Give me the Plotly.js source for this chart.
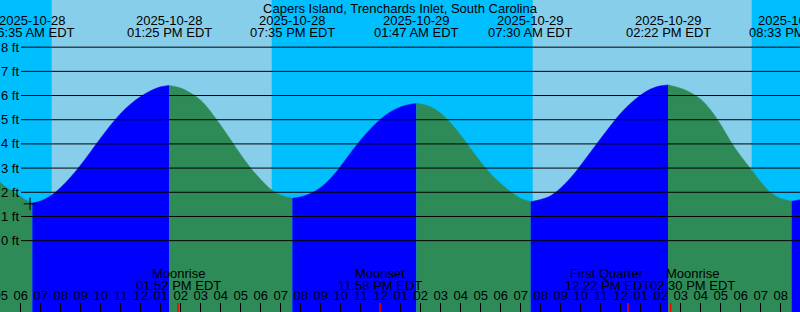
<!DOCTYPE html>
<html><head><meta charset="utf-8">
<script src="https://cdn.plot.ly/plotly-3.0.1.min.js"></script>
<style>html,body{margin:0;padding:0;background:#00BFFF;overflow:hidden}#chart{width:800px;height:312px}</style>
</head><body><div id="chart"></div>
<script>
const chartTitle = 'Capers Island, Trenchards Inlet, South Carolina';

// Tide curve samples (feet)
const tideTimes = [
 '2025-10-28 04:45','2025-10-28 05:00','2025-10-28 05:30','2025-10-28 06:00','2025-10-28 06:15','2025-10-28 06:35',
 '2025-10-28 07:00','2025-10-28 07:30','2025-10-28 08:00','2025-10-28 08:30','2025-10-28 09:00',
 '2025-10-28 09:30','2025-10-28 10:00','2025-10-28 10:30','2025-10-28 11:00','2025-10-28 11:30',
 '2025-10-28 12:00','2025-10-28 12:30','2025-10-28 13:00','2025-10-28 13:25','2025-10-28 14:00',
 '2025-10-28 14:30','2025-10-28 15:00','2025-10-28 15:30','2025-10-28 16:00','2025-10-28 16:30',
 '2025-10-28 17:00','2025-10-28 17:30','2025-10-28 18:00','2025-10-28 18:30','2025-10-28 19:00',
 '2025-10-28 19:35','2025-10-28 20:00','2025-10-28 20:30','2025-10-28 21:00','2025-10-28 21:30',
 '2025-10-28 22:00','2025-10-28 22:30','2025-10-28 23:00','2025-10-28 23:30','2025-10-29 00:00',
 '2025-10-29 00:30','2025-10-29 01:00','2025-10-29 01:30','2025-10-29 01:47','2025-10-29 02:00',
 '2025-10-29 02:30','2025-10-29 03:00','2025-10-29 03:30','2025-10-29 04:00','2025-10-29 04:30',
 '2025-10-29 05:00','2025-10-29 05:30','2025-10-29 06:00','2025-10-29 06:30','2025-10-29 07:00',
 '2025-10-29 07:30','2025-10-29 08:00','2025-10-29 08:30','2025-10-29 09:00','2025-10-29 09:30',
 '2025-10-29 10:00','2025-10-29 10:30','2025-10-29 11:00','2025-10-29 11:30','2025-10-29 12:00',
 '2025-10-29 12:30','2025-10-29 13:00','2025-10-29 13:30','2025-10-29 14:00','2025-10-29 14:22',
 '2025-10-29 15:00','2025-10-29 15:30','2025-10-29 16:00','2025-10-29 16:30','2025-10-29 17:00',
 '2025-10-29 17:30','2025-10-29 18:00','2025-10-29 18:30','2025-10-29 19:00','2025-10-29 19:30',
 '2025-10-29 20:00','2025-10-29 20:33','2025-10-29 21:00','2025-10-29 21:15'
];
const tideHeights = [
 2.62,2.38,2.08,1.83,1.68,1.56,
 1.64,1.86,2.20,2.63,3.13,
 3.68,4.24,4.78,5.26,5.65,
 5.96,6.20,6.36,6.42,6.31,
 6.10,5.80,5.33,4.77,4.17,
 3.56,3.00,2.53,2.13,1.88,
 1.75,1.81,1.95,2.20,2.58,
 3.08,3.63,4.16,4.63,5.03,
 5.33,5.53,5.64,5.67,5.65,
 5.53,5.27,4.86,4.36,3.80,
 3.25,2.76,2.36,2.02,1.74,
 1.61,1.70,1.86,2.18,2.60,
 3.12,3.67,4.22,4.76,5.27,
 5.68,6.02,6.27,6.40,6.44,
 6.30,6.12,5.85,5.40,4.80,
 4.10,3.50,2.97,2.43,1.98,
 1.74,1.63,1.70,1.78
];

// High / low tide events (labels at top)
const extremeTimes = ['2025-10-28 06:35','2025-10-28 13:25','2025-10-28 19:35','2025-10-29 01:47','2025-10-29 07:30','2025-10-29 14:22','2025-10-29 20:33'];
const extremeDates = ['2025-10-28','2025-10-28','2025-10-28','2025-10-29','2025-10-29','2025-10-29','2025-10-29'];
const extremeLabels = ['06:35 AM EDT','01:25 PM EDT','07:35 PM EDT','01:47 AM EDT','07:30 AM EDT','02:22 PM EDT','08:33 PM EDT'];

// Daylight periods
const sunrises = ['2025-10-28 07:33','2025-10-29 07:36'];
const sunsets  = ['2025-10-28 18:33','2025-10-29 18:33'];

// Moon events (bottom)
const moonTimes  = ['2025-10-28 13:52','2025-10-28 23:58','2025-10-29 12:22','2025-10-29 14:30'];
const moonNames  = ['Moonrise','Moonset','First Quarter','Moonrise'];
const moonLabels = ['01:52 PM EDT','11:58 PM EDT','12:22 PM EDT','02:30 PM EDT'];
const moonShift  = [0,0,-21,22];

// current-time marker
const nowTime = ['2025-10-28 06:28'];
const nowHeight = [1.52];

const ftTicks = [0,1,2,3,4,5,6,7,8];

const NIGHT = '#00BFFF', DAY = '#87CEEB', RISE = '#0000FF', FALL = '#2E8B57';
const Y0 = -2.95, Y1 = 9.95, BASE = -6;
const H = 312;
const FONT = 'Liberation Sans, Arial, sans-serif';
const FS = 13;
function py(px){ return 1 - px/H; }

const traces = [];
const bounds = [tideTimes[0], ...extremeTimes, tideTimes[tideTimes.length-1]];
for (let s = 0; s < bounds.length-1; s++) {
  const a = bounds[s], b = bounds[s+1];
  const xs = [], ys = [];
  tideTimes.forEach((t,i)=>{ if (t >= a && t <= b) { xs.push(t); ys.push(tideHeights[i]); } });
  const color = ys[ys.length-1] > ys[0] ? RISE : FALL;
  traces.push({x:[a,b], y:[BASE,BASE], mode:'lines', line:{width:0}, hoverinfo:'skip', showlegend:false});
  traces.push({x:xs, y:ys, mode:'lines', line:{shape:'spline', width:0.5, color:color}, fill:'tonexty', fillcolor:color, hoverinfo:'skip', showlegend:false});
}
traces.push({x:nowTime, y:nowHeight, mode:'markers', marker:{symbol:'cross-thin', size:9, line:{width:1, color:'#000'}, color:'#000'}, showlegend:false});

const shapes = [];
sunrises.forEach((t,i)=>{
  shapes.push({type:'rect', layer:'below', xref:'x', yref:'paper', x0:t, x1:sunsets[i], y0:0, y1:1, fillcolor:DAY, line:{width:0}});
});
ftTicks.forEach(v=>{
  shapes.push({type:'line', layer:'above', xref:'paper', yref:'y', x0:21/800, x1:1, y0:v, y1:v, line:{color:'#000', width:1}});
});
moonTimes.forEach(t=>{
  shapes.push({type:'line', layer:'above', xref:'x', yref:'paper', x0:t, x1:t, y0:0, y1:9/H, line:{color:'#FF0000', width:1.5}});
});

const annotations = [];
ftTicks.forEach(v=>{
  annotations.push({xref:'paper', yref:'y', x:20.5/800, y:v, xanchor:'right', yanchor:'middle', text:v+' ft', showarrow:false, font:{family:FONT,size:FS,color:'#000'}});
});
extremeTimes.forEach((t,i)=>{
  annotations.push({xref:'x', yref:'paper', x:t, y:py(20.3), xanchor:'center', yanchor:'middle', text:extremeDates[i], showarrow:false, font:{family:FONT,size:FS,color:'#000'}});
  annotations.push({xref:'x', yref:'paper', x:t, y:py(32.3), xanchor:'center', yanchor:'middle', text:extremeLabels[i], showarrow:false, font:{family:FONT,size:FS,color:'#000'}});
});
moonTimes.forEach((t,i)=>{
  annotations.push({xref:'x', yref:'paper', x:t, y:py(273.5), xanchor:'center', yanchor:'middle', xshift:moonShift[i], text:moonNames[i], showarrow:false, font:{family:FONT,size:FS,color:'#000'}});
  annotations.push({xref:'x', yref:'paper', x:t, y:py(285), xanchor:'center', yanchor:'middle', xshift:moonShift[i], text:moonLabels[i], showarrow:false, font:{family:FONT,size:FS,color:'#000'}});
});

const layout = {
  width:800, height:312,
  margin:{l:0,r:0,t:0,b:0,pad:0},
  paper_bgcolor:NIGHT, plot_bgcolor:NIGHT,
  showlegend:false,
  font:{family:FONT, size:FS, color:'#000'},
  title:{text:chartTitle, x:0.5, xanchor:'center', xref:'paper', y:py(8.3), yref:'container', yanchor:'middle', font:{family:FONT, size:FS, color:'#000'}, pad:{t:0,b:0,l:0,r:0}},
  xaxis:{type:'date', range:['2025-10-28 04:57:54','2025-10-29 20:57:54'], tickformat:'%I', dtick:3600000, tick0:'2025-10-28 00:00',
         ticks:'inside', ticklen:9, tickwidth:1, tickcolor:'#000', ticklabelposition:'inside', ticklabeloverflow:'allow',
         showgrid:false, zeroline:false, showline:false, tickfont:{family:FONT,size:FS,color:'#000'}, fixedrange:true},
  yaxis:{range:[Y0,Y1], visible:false, fixedrange:true},
  shapes:shapes, annotations:annotations
};
Plotly.newPlot('chart', traces, layout, {staticPlot:true, displayModeBar:false});
</script>
</body></html>
